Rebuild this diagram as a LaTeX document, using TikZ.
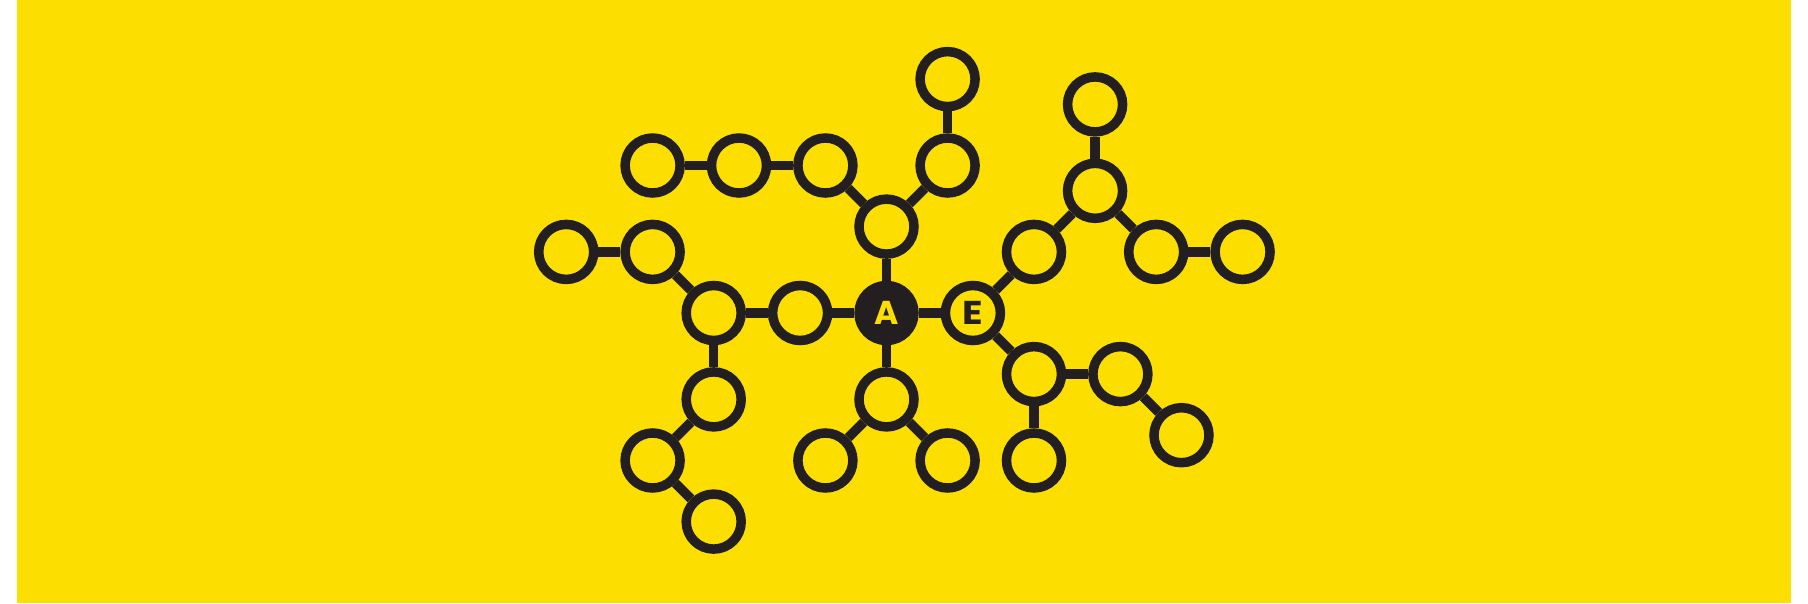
\documentclass[tikz,border=0pt]{standalone}
\usepackage{fontspec}
\setsansfont{Poppins}
\usetikzlibrary{calc}
\definecolor{bgyellow}{RGB}{252,223,0}
\definecolor{ink}{RGB}{35,31,32}
\tikzset{
  atom/.style={circle, draw=ink, line width=9.5pt, fill=bgyellow, minimum size=55pt, inner sep=0pt},
  core/.style={atom, fill=ink, text=bgyellow, font=\sffamily\bfseries\fontsize{33}{33}\selectfont},
  lettered/.style={atom, text=ink, font=\sffamily\bfseries\fontsize{33}{33}\selectfont},
  bond/.style={draw=ink, line width=9.5pt}
}
\def\L{86.4pt}
\begin{document}
\begin{tikzpicture}[x=1pt,y=-1pt]
\useasboundingbox (0,0) rectangle (1808,603);
\fill[white] (0,0) rectangle (1808,603);
\fill[bgyellow] (17,0) rectangle (1791,603);
% centre
\node[core] (A) at (886.5,313) {A};
\node[lettered] (E) at ([shift={(0:\L)}]A) {\scalebox{1.15}[1]{E}};
% left branch
\node[atom] (L1) at ([shift={(180:\L)}]A) {};
\node[atom] (L2) at ([shift={(180:\L)}]L1) {};
\node[atom] (L2a) at ([shift={(135:\L)}]L2) {};
\node[atom] (L2b) at ([shift={(180:\L)}]L2a) {};
\node[atom] (L2c) at ([shift={(-90:\L)}]L2) {};
\node[atom] (L2d) at ([shift={(-135:\L)}]L2c) {};
\node[atom] (L2e) at ([shift={(-45:\L)}]L2d) {};
% top branch
\node[atom] (U1) at ([shift={(90:\L)}]A) {};
\node[atom] (U2) at ([shift={(135:\L)}]U1) {};
\node[atom] (U3) at ([shift={(180:\L)}]U2) {};
\node[atom] (U4) at ([shift={(180:\L)}]U3) {};
\node[atom] (U5) at ([shift={(45:\L)}]U1) {};
\node[atom] (U6) at ([shift={(90:\L)}]U5) {};
% bottom branch
\node[atom] (D1) at ([shift={(-90:\L)}]A) {};
\node[atom] (D2) at ([shift={(-135:\L)}]D1) {};
\node[atom] (D3) at ([shift={(-45:\L)}]D1) {};
% E upper branch
\node[atom] (R1) at ([shift={(45:\L)}]E) {};
\node[atom] (R2) at ([shift={(45:\L)}]R1) {};
\node[atom] (R3) at ([shift={(90:\L)}]R2) {};
\node[atom] (R4) at ([shift={(-45:\L)}]R2) {};
\node[atom] (R5) at ([shift={(0:\L)}]R4) {};
% E lower branch
\node[atom] (S1) at ([shift={(-45:\L)}]E) {};
\node[atom] (S2) at ([shift={(-90:\L)}]S1) {};
\node[atom] (S3) at ([shift={(0:\L)}]S1) {};
\node[atom] (S4) at ([shift={(-45:\L)}]S3) {};
% bonds
\draw[bond] (A) -- (E);
\draw[bond] (A) -- (L1);
\draw[bond] (L1) -- (L2);
\draw[bond] (L2) -- (L2a);
\draw[bond] (L2a) -- (L2b);
\draw[bond] (L2) -- (L2c);
\draw[bond] (L2c) -- (L2d);
\draw[bond] (L2d) -- (L2e);
\draw[bond] (A) -- (U1);
\draw[bond] (U1) -- (U2);
\draw[bond] (U2) -- (U3);
\draw[bond] (U3) -- (U4);
\draw[bond] (U1) -- (U5);
\draw[bond] (U5) -- (U6);
\draw[bond] (A) -- (D1);
\draw[bond] (D1) -- (D2);
\draw[bond] (D1) -- (D3);
\draw[bond] (E) -- (R1);
\draw[bond] (R1) -- (R2);
\draw[bond] (R2) -- (R3);
\draw[bond] (R2) -- (R4);
\draw[bond] (R4) -- (R5);
\draw[bond] (E) -- (S1);
\draw[bond] (S1) -- (S2);
\draw[bond] (S1) -- (S3);
\draw[bond] (S3) -- (S4);
\end{tikzpicture}
\end{document}
